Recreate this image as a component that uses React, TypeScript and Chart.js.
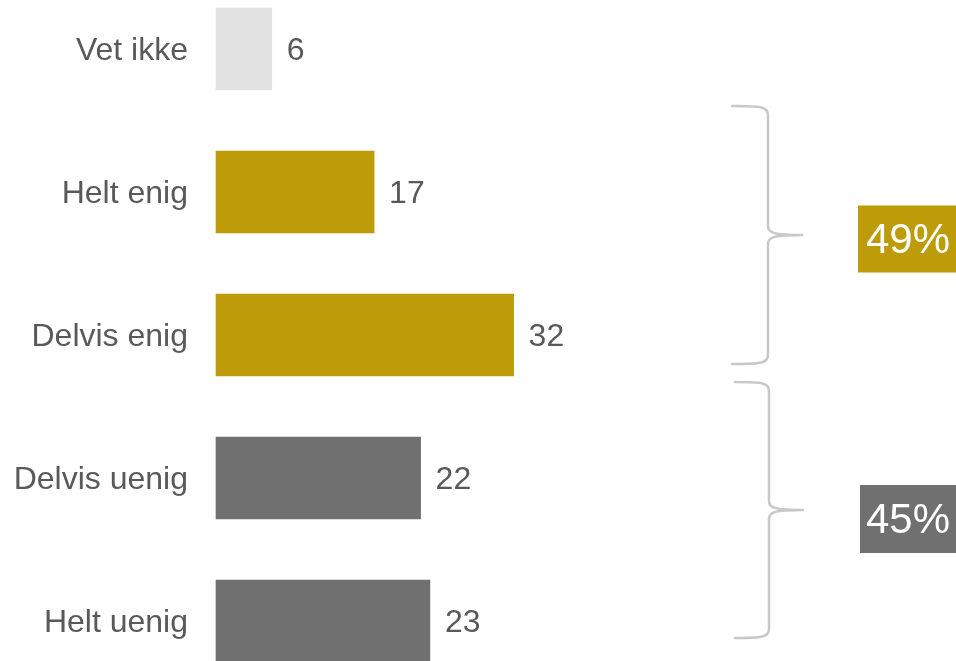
import React, { useEffect, useRef } from "react";
import { Chart, registerables } from "chart.js";

Chart.register(...registerables);

const categories = ["Vet ikke", "Helt enig", "Delvis enig", "Delvis uenig", "Helt uenig"];
const values = [6, 17, 32, 22, 23];
const barColors = ["#E2E2E2", "#BE9B08", "#BE9B08", "#707070", "#707070"];
const groupLabels = ["49%", "45%"];
const groupColors = ["#BE9B08", "#707070"];

const FONT = "'Liberation Sans', Arial, sans-serif";
const TEXT_COLOR = "#595959";

const valueLabelPlugin = {
  id: "valueLabels",
  afterDatasetsDraw(chart: any) {
    const ctx = chart.ctx;
    const meta = chart.getDatasetMeta(0);
    ctx.save();
    ctx.font = `32px ${FONT}`;
    ctx.fillStyle = TEXT_COLOR;
    ctx.textAlign = "left";
    ctx.textBaseline = "middle";
    meta.data.forEach((bar: any, i: number) => {
      ctx.fillText(String(values[i]), bar.x + 15, bar.y + 2);
    });
    ctx.restore();
  },
};

const bracketPlugin = {
  id: "brackets",
  afterDraw(chart: any) {
    const ctx = chart.ctx;
    const y = chart.scales.y;
    const specs = [
      { top: y.getPixelForValue(1) - 86, bottom: y.getPixelForValue(2) + 29, L: 732, V: 768, R: 802, boxX: 858, boxH: 67, boxShift: 4 },
      { top: y.getPixelForValue(3) - 96, bottom: y.getPixelForValue(4) + 17, L: 735, V: 769, R: 803, boxX: 860, boxH: 68, boxShift: 9 },
    ];
    specs.forEach((s, i) => {
      const tip = (s.top + s.bottom) / 2;
      ctx.save();
      ctx.strokeStyle = "#C8C8C8";
      ctx.lineWidth = 2.5;
      ctx.lineCap = "round";
      ctx.beginPath();
      ctx.moveTo(s.L, s.top);
      ctx.bezierCurveTo(s.V - 6, s.top, s.V, s.top + 1, s.V, s.top + 9);
      ctx.lineTo(s.V, tip - 9);
      ctx.bezierCurveTo(s.V, tip - 2, s.V + 6, tip, s.R, tip);
      ctx.moveTo(s.R, tip);
      ctx.bezierCurveTo(s.V + 6, tip, s.V, tip + 2, s.V, tip + 9);
      ctx.lineTo(s.V, s.bottom - 9);
      ctx.bezierCurveTo(s.V, s.bottom - 1, s.V - 6, s.bottom, s.L, s.bottom);
      ctx.stroke();

      const boxY = tip - s.boxH / 2 + s.boxShift;
      ctx.fillStyle = groupColors[i];
      ctx.fillRect(s.boxX, boxY, 120, s.boxH);
      ctx.fillStyle = "#FFFFFF";
      ctx.font = `42px ${FONT}`;
      ctx.textAlign = "center";
      ctx.textBaseline = "middle";
      ctx.fillText(groupLabels[i], 908, boxY + s.boxH / 2 + 2);
      ctx.restore();
    });
  },
};

export default function App() {
  const canvasRef = useRef<HTMLCanvasElement>(null);

  useEffect(() => {
    if (!canvasRef.current) return;
    const chart = new Chart(canvasRef.current, {
      type: "bar",
      data: {
        labels: categories,
        datasets: [
          {
            data: values,
            backgroundColor: barColors,
            borderWidth: 0,
            barThickness: 82,
            clip: false as any,
          },
        ],
      },
      options: {
        animation: false,
        responsive: true,
        maintainAspectRatio: false,
        indexAxis: "y",
        layout: { padding: { top: 49, bottom: 40, left: 0, right: 275 } },
        plugins: {
          legend: { display: false },
          tooltip: { enabled: false },
        },
        scales: {
          x: {
            display: false,
            min: 0,
            max: 50,
          },
          y: {
            offset: false,
            grid: { display: false, drawTicks: false },
            border: { display: false },
            ticks: {
              padding: 28,
              labelOffset: 2,
              color: TEXT_COLOR,
              font: { family: FONT, size: 32 },
            },
            afterFit(scale: any) {
              scale.width = 216;
              scale.paddingTop = 0;
              scale.paddingBottom = 0;
            },
          },
        },
      },
      plugins: [valueLabelPlugin, bracketPlugin],
    });
    return () => chart.destroy();
  }, []);

  return (
    <div style={{ position: "fixed", left: 0, top: 0, width: 956, height: 661, background: "#fff" }}>
      <canvas ref={canvasRef} />
    </div>
  );
}
